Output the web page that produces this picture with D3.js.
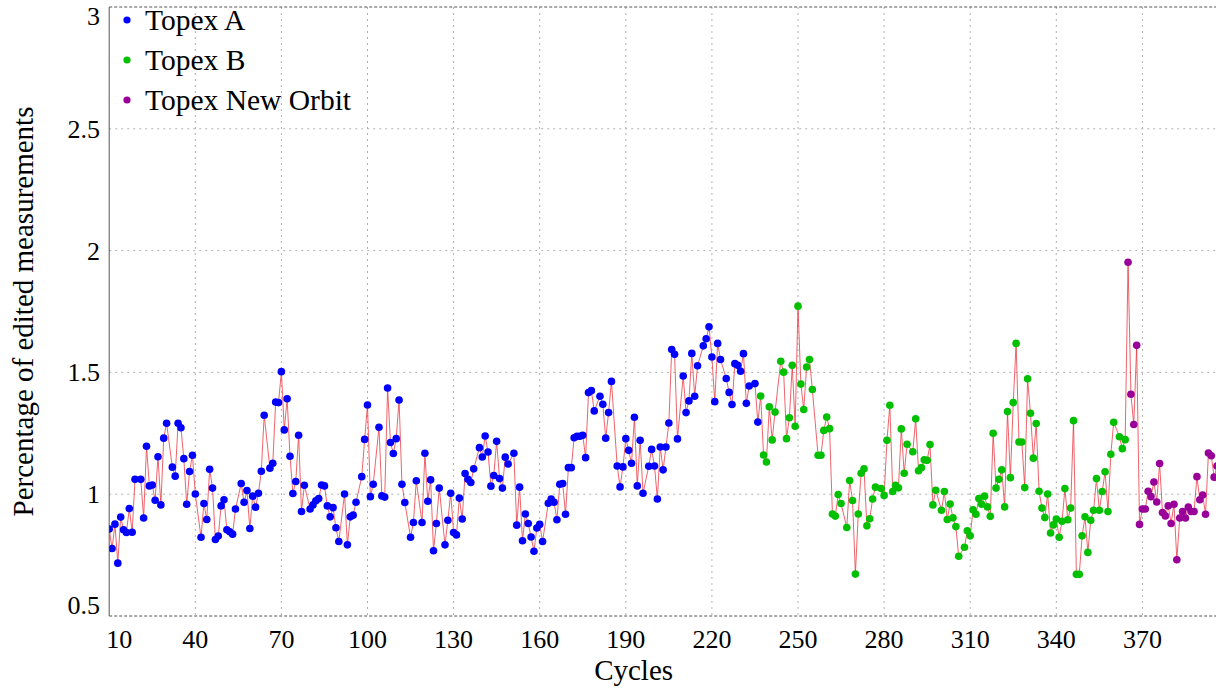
<!DOCTYPE html>
<html lang="en">
<head>
<meta charset="UTF-8">
<title>Percentage of edited measurements</title>
<script src="https://cdn.jsdelivr.net/npm/d3@7"></script>
<style>
    body { margin: 0; background: #fff; }
    svg { display: block; font-family: "Liberation Serif", "DejaVu Serif", serif; }
    .grid line { stroke: #b0b0b0; stroke-dasharray: 2,4; }
    .tick-label { font-size: 26px; fill: #000; }
    .title { font-size: 29px; fill: #000; }
    .legend text { font-size: 29.5px; fill: #000; }
</style>
</head>
<body>
<script>
// Topex A (blue)
const cyclesA = [10,11,12,13,14,15,16,17,18,19,21,22,23,24,25,26,27,28,29,30,32,33,34,35,36,37,38,39,40,
    42,43,44,45,46,47,48,49,50,51,52,53,54,56,57,58,59,60,61,62,63,64,66,67,68,69,70,71,72,73,74,75,76,77,78,
    80,81,82,83,84,85,86,87,88,89,90,92,93,94,95,96,98,99,100,101,102,104,105,106,107,108,109,110,111,112,113,
    115,116,117,119,120,121,122,123,124,125,127,128,129,130,131,132,133,134,135,136,137,139,140,141,142,143,144,
    145,146,147,148,149,151,152,153,154,155,156,157,158,159,160,161,163,164,165,166,167,168,169,170,171,172,173,
    174,175,176,177,178,179,181,182,183,184,185,187,188,189,190,191,192,193,194,195,196,198,199,200,201,202,203,
    204,205,206,207,208,210,211,212,213,214,215,217,218,219,220,221,222,223,225,226,227,228,229,230,231,232,233,
    235,236];
const valuesA = [0.857,0.777,0.877,0.717,0.906,0.854,0.843,0.941,0.844,1.061,1.061,0.902,1.197,1.034,1.038,0.975,
    1.154,0.956,1.23,1.291,1.111,1.074,1.291,1.273,1.146,0.959,1.093,1.16,1.001,
    0.823,0.962,0.896,1.102,1.025,0.814,0.828,0.952,0.977,0.854,0.846,0.836,0.939,1.044,0.967,1.015,0.859,0.992,
    0.947,1.004,1.094,1.324,1.107,1.127,1.378,1.376,1.503,1.264,1.392,1.156,1.003,1.052,1.242,0.929,1.037,
    0.939,0.956,0.973,0.982,1.038,1.034,0.952,0.907,0.945,0.862,0.806,1.001,0.792,0.907,0.914,0.967,1.072,1.225,
    1.366,0.99,1.041,1.275,0.993,0.988,1.436,1.212,1.167,1.228,1.387,1.041,0.966,
    0.823,0.884,1.055,0.884,1.168,0.971,1.059,0.768,0.88,1.025,0.792,0.893,1.004,0.843,0.833,0.984,0.898,1.085,
    1.061,1.048,1.104,1.191,1.153,1.239,1.173,1.033,1.077,
    1.217,1.064,1.025,1.152,1.124,1.168,0.873,1.029,0.809,0.919,0.88,0.824,0.766,0.861,0.876,0.806,0.963,0.98,
    0.967,0.895,1.041,1.044,0.918,1.109,1.109,1.232,1.238,
    1.238,1.242,1.15,1.417,1.425,1.342,1.402,1.369,1.23,1.335,1.463,1.116,1.03,1.112,1.228,1.18,1.127,1.316,1.034,
    1.221,1.004,1.115,1.184,1.116,0.98,1.194,1.1,
    1.194,1.292,1.594,1.574,1.227,1.485,1.335,1.383,1.578,1.402,1.527,1.609,1.638,1.687,1.563,1.38,1.619,1.553,
    1.475,1.418,1.368,1.536,1.529,1.505,1.577,1.373,1.444,
    1.454,1.296];

// Topex B (green)
const cyclesB = [237,238,239,240,241,242,244,245,246,247,248,249,250,251,252,253,254,255,257,258,259,260,261,
    262,263,264,265,267,268,269,270,271,272,273,274,275,276,277,279,280,281,282,283,284,285,286,287,288,290,291,
    292,293,294,295,296,297,298,300,301,302,303,304,305,306,308,309,310,311,312,313,314,315,316,317,318,319,320,
    321,322,323,324,325,326,327,328,329,330,331,332,333,334,335,336,337,338,339,340,341,342,343,344,345,346,347,
    348,349,350,351,352,353,354,355,356,357,358,359,360,362,363,364];
const valuesB = [1.403,1.161,1.132,1.359,1.223,1.337,1.546,1.501,1.228,1.314,1.529,1.279,1.772,1.452,1.348,1.522,
    1.553,1.43,1.16,1.16,1.262,1.317,1.269,
    0.919,0.91,0.999,0.962,0.863,1.056,0.974,0.672,0.919,1.086,1.104,0.87,0.899,0.98,1.029,1.023,0.995,1.221,1.365,
    1.011,1.037,1.026,1.268,1.086,1.205,1.174,1.31,
    1.096,1.109,1.141,1.139,1.204,0.956,1.016,0.934,1.011,0.896,0.96,0.903,0.867,0.745,0.782,0.85,0.829,0.936,
    0.918,0.982,0.959,0.992,0.948,0.909,1.25,1.025,1.061,
    1.1,0.948,1.339,1.068,1.376,1.619,1.214,1.214,1.027,1.474,1.332,1.148,1.29,1.012,0.943,0.904,1.001,0.841,
    0.874,0.898,0.823,0.889,1.023,0.895,0.943,1.302,0.671,
    0.671,0.829,0.907,0.761,0.893,0.934,1.064,0.934,1.011,1.092,0.929,1.164,1.295,1.236,1.187,1.224];

// Topex New Orbit (purple)
const cyclesN = [365,366,367,368,369,370,371,372,373,374,375,376,377,378,379,380,381,382,383,384,385,386,387,
    388,389,390,391,392,393,394,395,396];
const valuesN = [1.952,1.41,1.286,1.611,0.876,0.939,0.939,1.012,0.99,1.05,0.968,1.126,0.925,0.911,0.952,0.88,
    0.959,0.731,0.902,0.929,0.902,0.947,0.929,0.929,1.072,0.977,0.997,0.918,1.169,1.158,1.07,1.116];

const seriesNames = ["Topex A", "Topex B", "Topex New Orbit"];
const seriesColors = ["#0000ff", "#00c000", "#990099"];

const xTicks = [10, 40, 70, 100, 130, 160, 190, 220, 250, 280, 310, 340, 370];
const yTicks = [0.5, 1, 1.5, 2, 2.5, 3];

const W = 1216, H = 689;
const plotL = 109.2, plotR = 1216, plotT = 7, plotB = 616;

const series = [
    { name: seriesNames[0], color: seriesColors[0], pts: cyclesA.map((c, i) => ({ c, v: valuesA[i] })) },
    { name: seriesNames[1], color: seriesColors[1], pts: cyclesB.map((c, i) => ({ c, v: valuesB[i] })) },
    { name: seriesNames[2], color: seriesColors[2], pts: cyclesN.map((c, i) => ({ c, v: valuesN[i] })) }
];
const allPts = series.flatMap(s => s.pts);

const x = d3.scaleLinear().domain([10, 10 + (plotR - plotL) / 2.87]).range([plotL, plotR]);
const y = d3.scaleLinear().domain([0.5, 3]).range([plotB, plotT]);

const svg = d3.select("body").append("svg")
    .attr("width", W)
    .attr("height", H);

svg.append("defs").append("clipPath").attr("id", "plot")
    .append("rect")
    .attr("x", plotL).attr("y", plotT)
    .attr("width", plotR - plotL).attr("height", plotB - plotT);

// grid
const grid = svg.append("g").attr("class", "grid");
grid.selectAll(".vx").data(xTicks.slice(1)).enter().append("line")
    .attr("x1", d => x(d)).attr("x2", d => x(d))
    .attr("y1", plotT).attr("y2", plotB);
grid.selectAll(".hy").data(yTicks.slice(1, -1)).enter().append("line")
    .attr("x1", plotL).attr("x2", plotR)
    .attr("y1", d => y(d)).attr("y2", d => y(d));

// frame
svg.append("line").attr("x1", plotL).attr("x2", plotR).attr("y1", plotT).attr("y2", plotT)
    .attr("stroke", "#555").attr("stroke-dasharray", "3,2");
svg.append("line").attr("x1", plotL).attr("x2", plotR).attr("y1", plotB).attr("y2", plotB)
    .attr("stroke", "#555").attr("stroke-dasharray", "3,2");
svg.append("line").attr("x1", plotL).attr("x2", plotL).attr("y1", plotT).attr("y2", plotB)
    .attr("stroke", "#555");

// line through all points
const plot = svg.append("g").attr("clip-path", "url(#plot)");
plot.append("path")
    .datum(allPts)
    .attr("fill", "none")
    .attr("stroke", "#e8303a")
    .attr("stroke-opacity", 0.75)
    .attr("stroke-width", 1)
    .attr("d", d3.line().x(d => x(d.c)).y(d => y(d.v)));

series.forEach(s => {
    plot.append("g").selectAll("circle")
        .data(s.pts)
        .enter().append("circle")
        .attr("cx", d => x(d.c))
        .attr("cy", d => y(d.v))
        .attr("r", 3.8)
        .attr("fill", s.color);
});

// tick labels
svg.append("g").selectAll("text")
    .data(xTicks).enter().append("text")
    .attr("class", "tick-label")
    .attr("x", d => d === 10 ? x(d) + 10 : x(d))
    .attr("y", 648)
    .attr("text-anchor", "middle")
    .text(d => d);

svg.append("g").selectAll("text")
    .data(yTicks).enter().append("text")
    .attr("class", "tick-label")
    .attr("x", 100)
    .attr("y", d => d === 3 ? y(d) + 18 : (d === 0.5 ? y(d) - 2 : y(d) + 9))
    .attr("text-anchor", "end")
    .text(d => d);

svg.append("text").attr("class", "title")
    .attr("x", (plotL + plotR) / 2 - 29).attr("y", 680)
    .attr("text-anchor", "middle")
    .text("Cycles");

svg.append("text").attr("class", "title")
    .attr("transform", `translate(33, ${(plotT + plotB) / 2}) rotate(-90)`)
    .attr("text-anchor", "middle")
    .text("Percentage of edited measurements");

// legend
const legend = svg.append("g").attr("class", "legend");
series.forEach((s, i) => {
    const ly = 20 + i * 40;
    legend.append("circle").attr("cx", 127).attr("cy", ly).attr("r", 3.6).attr("fill", s.color);
    legend.append("text").attr("x", 145).attr("y", ly + 10).text(s.name);
});
</script>
</body>
</html>
